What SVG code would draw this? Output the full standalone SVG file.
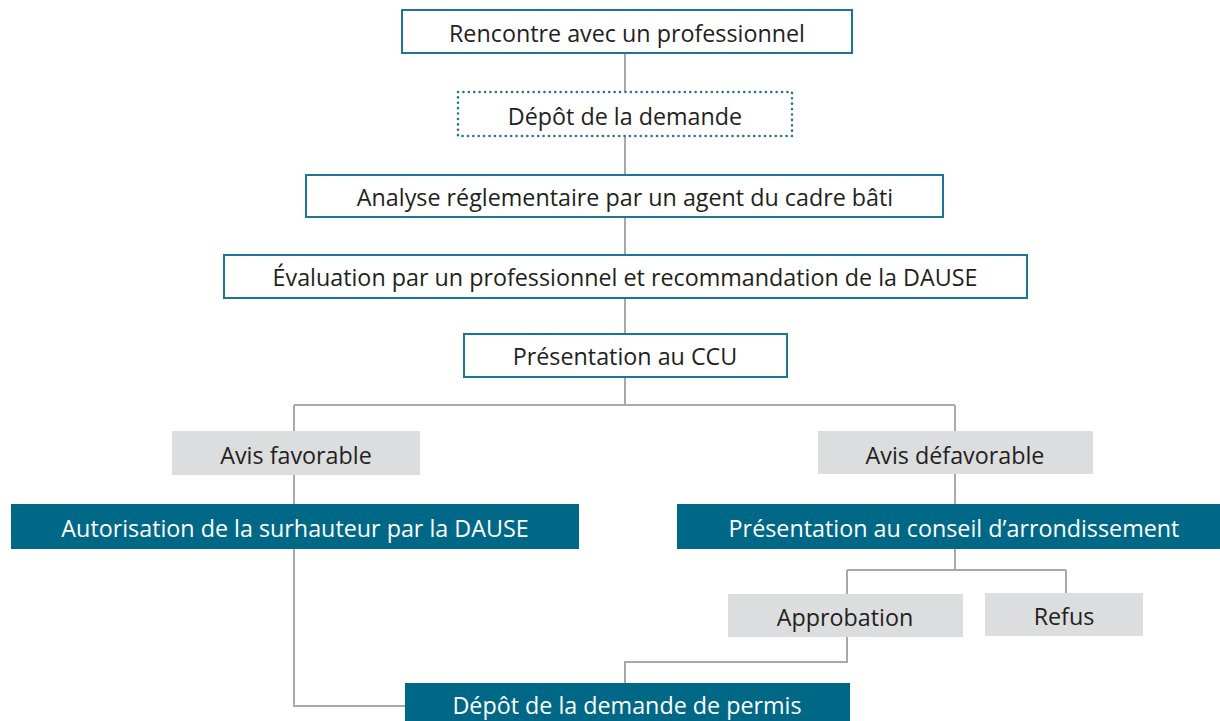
<svg xmlns="http://www.w3.org/2000/svg" width="1220" height="721" viewBox="0 0 1220 721">
<style>
.t{font-family:"Open Sans","Liberation Sans",sans-serif;font-size:23.3px;text-anchor:middle;fill:#231f20}
.w{fill:#ffffff}
.ob{fill:#ffffff;stroke:#1c7592;stroke-width:2}
.db{fill:#ffffff;stroke:#1c7592;stroke-width:2.5;stroke-dasharray:0.1 5.3;stroke-linecap:round}
.g{fill:#dcdddf}
.d{fill:#006887}
.c{fill:none;stroke:#a7a9ac;stroke-width:2}
</style>
<rect width="1220" height="721" fill="#ffffff"/>
<g id="connectors">
<path class="c" d="M625 53V91M625 136V175M625 217V255M625 298V334M625 377V405M294 405H955M294 405V431M955 405V431M294 475V504M955 474V504M955 549V570M847 570H1066M847 570V594M1066 570V593M847 637V662H625V683M294 549V706H405"/>
</g>
<g id="n1"><rect class="ob" x="402" y="10" width="450" height="43"/><text class="t" x="627" y="42">Rencontre avec un professionnel</text></g>
<g id="n2"><rect class="db" x="458" y="92" width="334" height="44"/><text class="t" x="625" y="125">Dépôt de la demande</text></g>
<g id="n3"><rect class="ob" x="306" y="175" width="637" height="42"/><text class="t" x="625" y="206">Analyse réglementaire par un agent du cadre bâti</text></g>
<g id="n4"><rect class="ob" x="224" y="255" width="803" height="43"/><text class="t" x="625" y="286">Évaluation par un professionnel et recommandation de la DAUSE</text></g>
<g id="n5"><rect class="ob" x="464" y="334" width="323" height="43"/><text class="t" x="625" y="365">Présentation au CCU</text></g>
<g id="n6"><rect class="g" x="172" y="431" width="248" height="44"/><text class="t" x="296" y="464">Avis favorable</text></g>
<g id="n7"><rect class="g" x="818" y="431" width="275" height="43"/><text class="t" x="955" y="464">Avis défavorable</text></g>
<g id="n8"><rect class="d" x="11" y="504" width="568" height="45"/><text class="t w" x="295" y="537">Autorisation de la surhauteur par la DAUSE</text></g>
<g id="n9"><rect class="d" x="677" y="504" width="543" height="45"/><text class="t w" x="954" y="537">Présentation au conseil d’arrondissement</text></g>
<g id="n10"><rect class="g" x="728" y="594" width="235" height="43"/><text class="t" x="845" y="626">Approbation</text></g>
<g id="n11"><rect class="g" x="985" y="593" width="158" height="43"/><text class="t" x="1064" y="625">Refus</text></g>
<g id="n12"><rect class="d" x="405" y="683" width="445" height="38"/><text class="t w" x="627" y="714">Dépôt de la demande de permis</text></g>
</svg>
